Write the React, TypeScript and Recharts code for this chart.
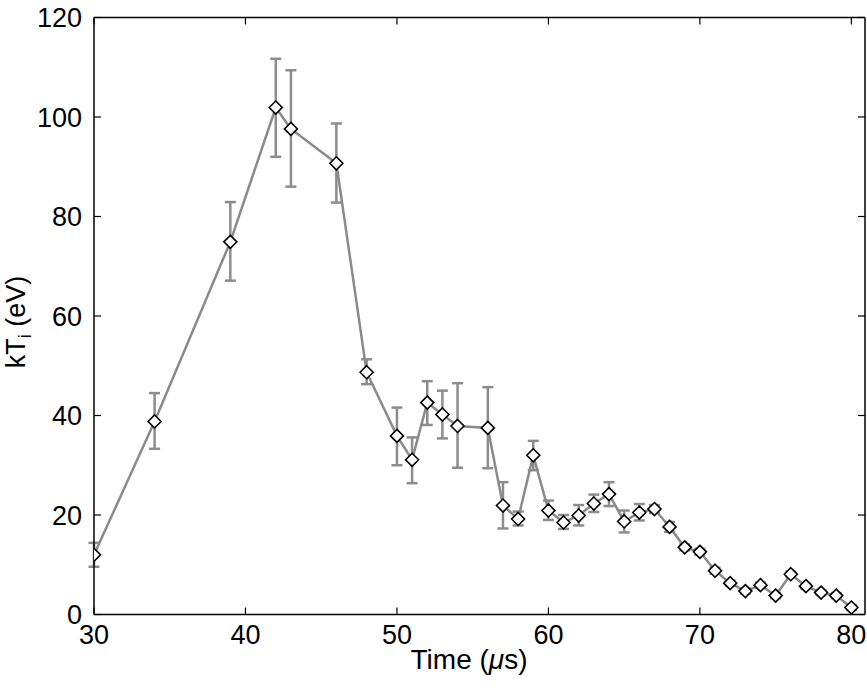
import React from "react";
import { ComposedChart, Line, XAxis, YAxis, ErrorBar } from "recharts";

// time (µs), ion temperature (eV), and error bar bounds
const times = [30, 34, 39, 42, 43, 46, 48, 50, 51, 52, 53, 54, 56, 57, 58, 59, 60, 61, 62, 63, 64, 65, 66, 67, 68, 69, 70, 71, 72, 73, 74, 75, 76, 77, 78, 79, 80];
const kTi = [12.0, 38.8, 74.9, 101.9, 97.6, 90.7, 48.7, 35.9, 31.1, 42.6, 40.2, 37.9, 37.5, 21.9, 19.2, 32.0, 20.9, 18.5, 19.9, 22.3, 24.2, 18.7, 20.5, 21.2, 17.6, 13.5, 12.6, 8.8, 6.3, 4.7, 5.9, 3.8, 8.1, 5.7, 4.4, 3.8, 1.4];
const upper = [14.4, 44.5, 82.9, 111.7, 109.4, 98.7, 51.3, 41.6, 35.6, 46.9, 45.0, 46.5, 45.7, 26.6, 20.7, 34.9, 22.9, 20.0, 22.0, 24.1, 26.6, 20.9, 22.2, 22.0, 18.6, 14.1, 13.2, 9.4, 6.8, 5.2, 6.4, 4.3, 8.6, 6.2, 4.9, 4.3, 1.9];
const lower = [9.6, 33.3, 67.1, 92.0, 86.0, 82.8, 46.3, 30.0, 26.4, 38.1, 35.4, 29.5, 29.4, 17.3, 17.9, 29.0, 19.0, 17.2, 17.9, 20.6, 21.8, 16.5, 18.9, 20.4, 16.6, 12.9, 12.0, 8.2, 5.8, 4.2, 5.4, 3.3, 7.6, 5.2, 3.9, 3.3, 0.9];

const xTicks = [30, 40, 50, 60, 70, 80];
const yTicks = [0, 20, 40, 60, 80, 100, 120];

const data = times.map((t, i) => ({
  t,
  kT: kTi[i],
  err: [kTi[i] - lower[i], upper[i] - kTi[i]],
}));

const FONT = '"Liberation Sans", Arial, Helvetica, sans-serif';
const tickStyle = { fontSize: 27, fill: "#000", fontFamily: FONT };

const Diamond = (props: any) => {
  const { cx, cy } = props;
  if (cx == null || cy == null) return null;
  const r = 6.5;
  return (
    <path
      d={`M${cx} ${cy - r} L${cx + r} ${cy} L${cx} ${cy + r} L${cx - r} ${cy} Z`}
      fill="#fff"
      stroke="#000"
      strokeWidth={1.6}
    />
  );
};

const XLabel = ({ viewBox }: any) => (
  <text x={viewBox.x + 375} y={viewBox.y + 54} textAnchor="middle" fontSize={28} fontFamily={FONT} fill="#000">
    Time (<tspan fontStyle="italic">μ</tspan>s)
  </text>
);

const YLabel = ({ viewBox }: any) => {
  const x = viewBox.x + 25;
  const y = 322;
  return (
    <text x={x} y={y} transform={`rotate(-90 ${x} ${y})`} textAnchor="middle" fontSize={27} fontFamily={FONT} fill="#000">
      kT<tspan fontSize={18} dy={6}>i</tspan>
      <tspan dy={-6}> (eV)</tspan>
    </text>
  );
};

export default function App() {
  return (
    <div style={{ position: "absolute", left: 0, top: 0 }}>
      <ComposedChart width={867} height={688} data={data} margin={{ top: 16.5, right: 1, bottom: 0, left: 0 }}>
        <XAxis
          dataKey="t"
          type="number"
          domain={[30, 80.9]}
          ticks={xTicks}
          allowDataOverflow
          height={73.5}
          tickSize={-7}
          tickMargin={17}
          tick={tickStyle}
          axisLine={{ stroke: "#000", strokeWidth: 1.5 }}
          tickLine={{ stroke: "#000", strokeWidth: 1.2 }}
          label={<XLabel />}
        />
        <XAxis
          xAxisId="top"
          orientation="top"
          dataKey="t"
          type="number"
          domain={[30, 80.9]}
          ticks={xTicks}
          allowDataOverflow
          height={1}
          tickSize={-7}
          tickFormatter={() => ""}
          axisLine={{ stroke: "#000", strokeWidth: 1.5 }}
          tickLine={{ stroke: "#000", strokeWidth: 1.2 }}
        />
        <YAxis
          type="number"
          domain={[0, 120]}
          ticks={yTicks}
          allowDataOverflow
          width={94}
          tickSize={-7}
          tickMargin={19}
          tick={tickStyle}
          axisLine={{ stroke: "#000", strokeWidth: 1.5 }}
          tickLine={{ stroke: "#000", strokeWidth: 1.2 }}
          label={<YLabel />}
        />
        <YAxis
          yAxisId="right"
          orientation="right"
          type="number"
          domain={[0, 120]}
          ticks={yTicks}
          allowDataOverflow
          width={1}
          tickSize={-7}
          tickFormatter={() => ""}
          axisLine={{ stroke: "#000", strokeWidth: 1.5 }}
          tickLine={{ stroke: "#000", strokeWidth: 1.2 }}
        />
        <Line
          dataKey="kT"
          stroke="#8a8a8a"
          strokeWidth={2.5}
          dot={<Diamond />}
          activeDot={false}
          isAnimationActive={false}
        >
          <ErrorBar dataKey="err" direction="y" width={5.5} stroke="#8c8c8c" strokeWidth={2.5} isAnimationActive={false} />
        </Line>
      </ComposedChart>
    </div>
  );
}
